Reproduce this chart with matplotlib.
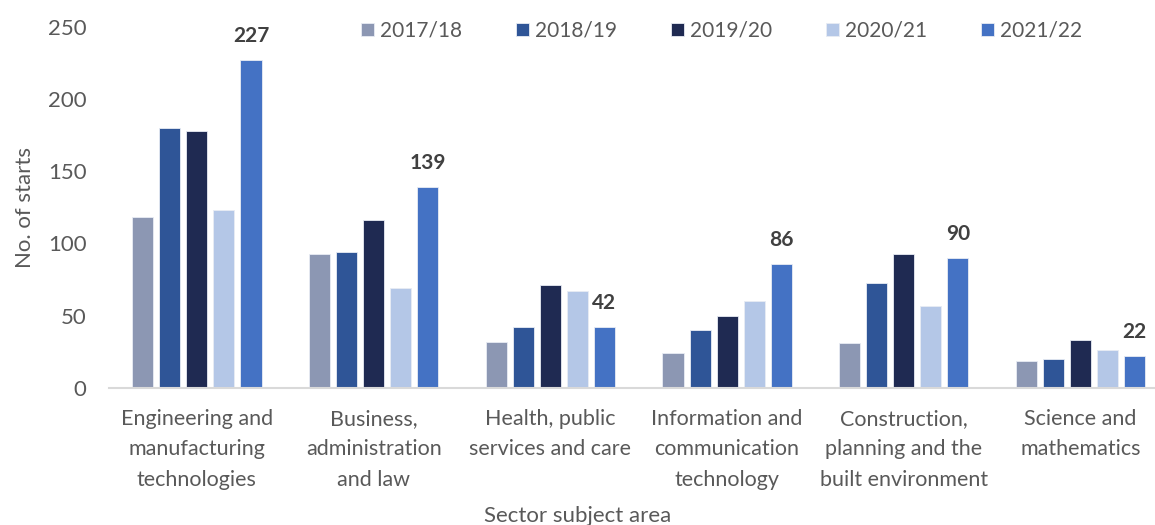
import numpy as np
import matplotlib.pyplot as plt

plt.rcParams['font.family'] = ['Lato', 'DejaVu Sans']

categories = ['Engineering and\nmanufacturing\ntechnologies',
              'Business,\nadministration\nand law',
              'Health, public\nservices and care',
              'Information and\ncommunication\ntechnology',
              'Construction,\nplanning and the\nbuilt environment',
              'Science and\nmathematics']
years = ['2017/18', '2018/19', '2019/20', '2020/21', '2021/22']
starts_1718 = [118, 93, 32, 24, 31, 19]
starts_1819 = [180, 94, 42, 40, 73, 20]
starts_1920 = [178, 116, 71, 50, 93, 33]
starts_2021 = [123, 69, 67, 60, 57, 26]
starts_2122 = [227, 139, 42, 86, 90, 22]
colors = ['#8C97B3', '#2F5597', '#1F2A52', '#B4C7E7', '#4472C4']

series = [starts_1718, starts_1819, starts_1920, starts_2021, starts_2122]
grey = '#595959'

fig = plt.figure(figsize=(11.55, 5.25), dpi=100)
ax = fig.add_axes([0.094, 0.261, 0.918, 0.688])

x = np.arange(len(categories))
w = 0.119
pitch = 0.153
for i, (vals, c, yr) in enumerate(zip(series, colors, years)):
    pos = x + (i - 2) * pitch
    ax.bar(pos, vals, w, color=c, edgecolor='#E8ECF4', linewidth=0.6, label=yr)
    if i == 4:
        for p, v in zip(pos, vals):
            ax.annotate(str(v), (p, v), xytext=(0, 10), textcoords='offset points',
                        ha='center', va='bottom', fontsize=15, fontweight='bold',
                        color='#404040')

ax.set_xlim(-0.5, len(categories) - 0.5)
ax.set_ylim(0, 250)
ax.set_yticks(range(0, 251, 50))
ax.set_xticks(x)
ax.set_xticklabels(categories, fontsize=15.5, color=grey, linespacing=1.65)
ax.tick_params(axis='y', length=0, labelsize=16, labelcolor=grey, pad=16)
ax.tick_params(axis='x', length=0, pad=15)
for s in ['top', 'right', 'left']:
    ax.spines[s].set_visible(False)
ax.spines['bottom'].set_color('#D9D9D9')
ax.spines['bottom'].set_linewidth(1.5)

ax.set_ylabel('No. of starts', fontsize=16, color=grey, labelpad=9)
fig.text(0.5, 0.018, 'Sector subject area', ha='center', va='center', fontsize=16, color=grey)

fig.legend(loc='center', bbox_to_anchor=(0.625, 0.941), ncol=5, frameon=False,
           fontsize=15, handlelength=0.6, handleheight=0.6, handletextpad=0.3,
           columnspacing=2.6, labelcolor=grey)

plt.savefig('out.png')
plt.close()
